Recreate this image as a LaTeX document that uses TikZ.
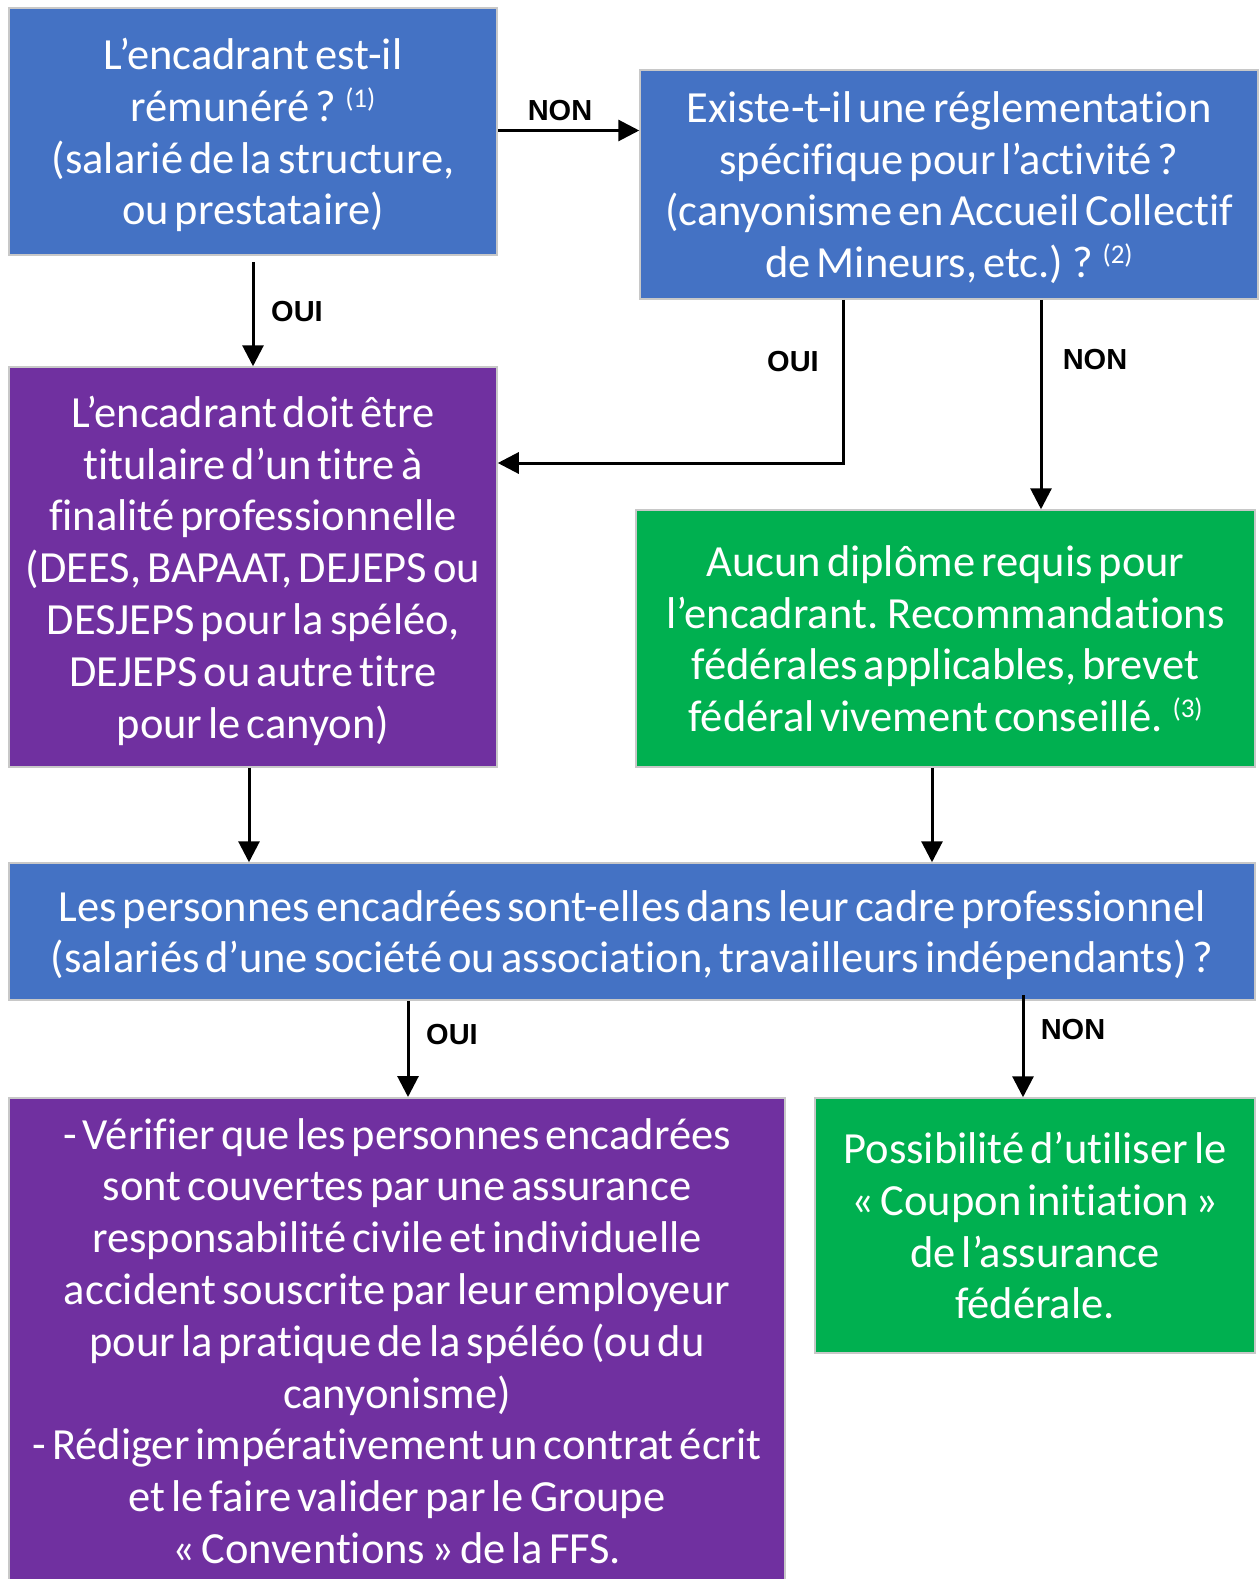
\documentclass[tikz,border=0pt]{standalone}
\usepackage{fontspec}
\setmainfont{Carlito}[Ligatures=NoCommon, WordSpace=0.6]
\newfontfamily\labfont{Liberation Sans}
\usetikzlibrary{arrows.meta}
\definecolor{cblue}{HTML}{4472C4}
\definecolor{cpurple}{HTML}{7030A0}
\definecolor{cgreen}{HTML}{00B050}
\definecolor{cborder}{HTML}{C8C8C8}
\newcommand\myexp[1]{{\fontsize{27}{27}\selectfont\raisebox{14pt}{#1}}}
\newcommand\lastl[1]{\raisebox{0pt}[\height][0pt]{#1}}
\tikzset{
  box/.style={draw=cborder, line width=1.5pt, text=white, align=center, inner sep=0pt,
    font=\fontsize{44.5}{51.8}\selectfont},
  bluebox/.style={box, fill=cblue},
  purplebox/.style={box, fill=cpurple},
  greenbox/.style={box, fill=cgreen},
  txt/.style={text=white, align=center, inner sep=0pt, font=\fontsize{44.5}{51.8}\selectfont},
  arr/.style={line width=3pt, -{Triangle[length=21pt,width=21pt]}},
  seg/.style={line width=3pt},
  lab/.style={font=\labfont\bfseries\fontsize{29}{29}\selectfont, inner sep=0pt}
}
\begin{document}
\begin{tikzpicture}[x=1pt,y=-1pt]
\useasboundingbox (0,0) rectangle (1260,1579);
\clip (0,0) rectangle (1260,1579);
\fill[white] (0,0) rectangle (1260,1579);

\node[bluebox, minimum width=488pt, minimum height=247pt] (b1) at (253,131.5)
  {L’encadrant est-il\\rémunéré ? \myexp{(1)}\\(salarié de la structure,\\\lastl{ou prestataire)}};
\node[bluebox, minimum width=618pt, minimum height=229pt] (b2) at (949,184.5)
  {Existe-t-il une réglementation\\spécifique pour l’activité ?\\(canyonisme en Accueil Collectif\\\lastl{de Mineurs, etc.) ? \myexp{(2)}}};
\node[purplebox, minimum width=488pt, minimum height=400pt] (b3) at (253,567)
  {L’encadrant doit être\\titulaire d’un titre à\\finalité professionnelle\\(DEES, BAPAAT, DEJEPS ou\\DESJEPS pour la spéléo,\\DEJEPS ou autre titre\\\lastl{pour le canyon)}};
\node[greenbox, minimum width=619pt, minimum height=257pt] (b4) at (945.5,638.5)
  {Aucun diplôme requis pour\\l’encadrant. Recommandations\\fédérales applicables, brevet\\\lastl{fédéral vivement conseillé. \myexp{(3)}}};
\node[bluebox, minimum width=1246pt, minimum height=137pt] (b5) at (632,931.5)
  {Les personnes encadrées sont-elles dans leur cadre professionnel\\\lastl{(salariés d’une société ou association, travailleurs indépendants) ?}};
\node[purplebox, minimum width=776pt, minimum height=540pt, anchor=north] (b6) at (397,1097) {};
\node[txt, anchor=north] (b6t) at ([yshift=-21pt]b6.north)
  {- Vérifier que les personnes encadrées\\sont couvertes par une assurance\\responsabilité civile et individuelle\\accident souscrite par leur employeur\\pour la pratique de la spéléo (ou du\\canyonisme)\\- Rédiger impérativement un contrat écrit\\et le faire valider par le Groupe\\« Conventions » de la FFS.};
\node[greenbox, minimum width=440pt, minimum height=255pt] (b7) at (1035,1225.5)
  {Possibilité d’utiliser le\\« Coupon initiation »\\de l’assurance\\\lastl{fédérale.}};

% connectors
\draw[arr] (b1.east |- 0,130.5) -- (b2.west |- 0,130.5);
\node[lab] (l1) at (560,111) {NON};

\coordinate (c2) at (253,262);
\draw[arr] (c2) -- (b3.north -| c2);
\node[lab] (l2) at (297,312) {OUI};

\coordinate (c3) at (843,463);
\draw[seg] (b2.south -| c3) -- (c3);
\draw[arr] ([xshift=1.5pt]c3) -- (b3.east |- c3);
\node[lab] (l3) at (793,362) {OUI};

\coordinate (c4) at (1041,300);
\draw[arr] (b2.south -| c4) -- (b4.north -| c4);
\node[lab] (l4) at (1095,360) {NON};

\coordinate (c5) at (249,767);
\draw[arr] (b3.south -| c5) -- (b5.north -| c5);
\coordinate (c6) at (932,767);
\draw[arr] (b4.south -| c6) -- (b5.north -| c6);

\coordinate (c7) at (408,1000);
\draw[arr] (b5.south -| c7) -- (b6.north -| c7);
\node[lab] (l7) at (452,1035) {OUI};

\coordinate (c8) at (1023,995);
\draw[arr] (c8) -- (b7.north -| c8);
\node[lab] (l8) at (1073,1030) {NON};
\end{tikzpicture}
\end{document}
